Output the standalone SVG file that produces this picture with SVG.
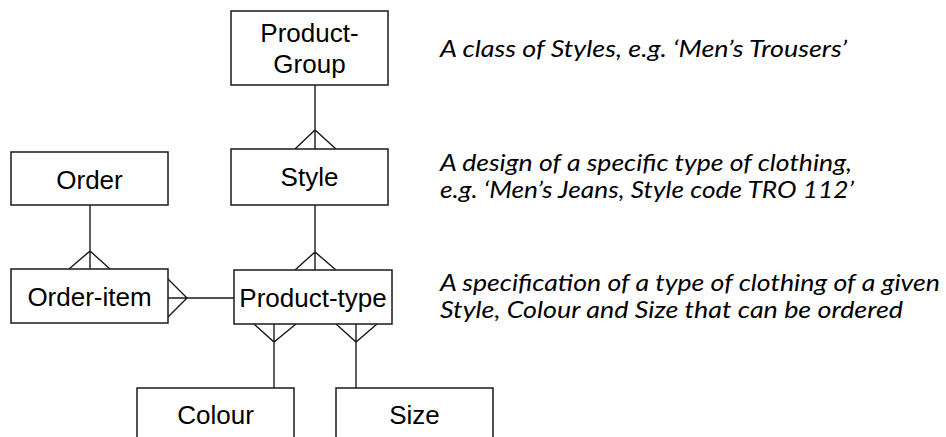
<svg xmlns="http://www.w3.org/2000/svg" width="946" height="437" viewBox="0 0 946 437">
  <style>
    .box { fill: #ffffff; stroke: #1a1a1a; stroke-width: 1.5; }
    .label { font-family: "Liberation Sans", Arial, sans-serif; font-size: 26px; fill: #000000; text-anchor: middle; }
    .rel { fill: none; stroke: #1a1a1a; stroke-width: 1.4; }
    .note { font-family: Lato, "Open Sans", sans-serif; font-style: italic; font-size: 22.5px; fill: #000000; }
  </style>
  <rect width="946" height="437" fill="#ffffff"/>

  <!-- relationships (crow's foot marks the "many" end) -->
  <g id="connectors">
    <!-- Product-Group to Style -->
    <path class="rel" d="M315 85 V149 M295 149 L315 130 L336 149"/>
    <!-- Order to Order-item -->
    <path class="rel" d="M90 205 V269 M69 269 L90 251 L110 269"/>
    <!-- Style to Product-type -->
    <path class="rel" d="M315 205 V270 M295 270 L315 252 L336 270"/>
    <!-- Product-type to Order-item -->
    <path class="rel" d="M234 298 H168 M168 279 L187 298 L168 317"/>
    <!-- Colour to Product-type -->
    <path class="rel" d="M274 388 V324 M254 324 L274 342 L296 324"/>
    <!-- Size to Product-type -->
    <path class="rel" d="M356 388 V324 M336 324 L356 342 L377 324"/>
  </g>

  <g id="product-group">
    <rect class="box" x="231" y="11" width="157" height="74"/>
    <text class="label" x="309.5" y="42">Product-</text>
    <text class="label" x="309.5" y="73">Group</text>
  </g>

  <g id="order">
    <rect class="box" x="11" y="152" width="157" height="53"/>
    <text class="label" x="89.5" y="189">Order</text>
  </g>

  <g id="style">
    <rect class="box" x="231" y="149" width="157" height="56"/>
    <text class="label" x="309.5" y="186">Style</text>
  </g>

  <g id="order-item">
    <rect class="box" x="11" y="269" width="157" height="54"/>
    <text class="label" x="89.5" y="306">Order-item</text>
  </g>

  <g id="product-type">
    <rect class="box" x="234" y="270" width="158" height="54"/>
    <text class="label" x="313" y="307">Product-type</text>
  </g>

  <g id="colour">
    <rect class="box" x="137" y="388" width="157" height="70"/>
    <text class="label" x="215.5" y="424">Colour</text>
  </g>

  <g id="size">
    <rect class="box" x="336" y="388" width="157" height="70"/>
    <text class="label" x="414.5" y="424">Size</text>
  </g>

  <!-- descriptions -->
  <g id="notes">
    <text class="note" x="440" y="57" textLength="407" lengthAdjust="spacingAndGlyphs">A class of Styles, e.g. ‘Men’s Trousers’</text>
    <text class="note" x="440" y="171" textLength="412" lengthAdjust="spacingAndGlyphs">A design of a specific type of clothing,</text>
    <text class="note" x="440" y="198" textLength="414" lengthAdjust="spacingAndGlyphs">e.g. ‘Men’s Jeans, Style code TRO 112’</text>
    <text class="note" x="440" y="291" textLength="500" lengthAdjust="spacingAndGlyphs">A specification of a type of clothing of a given</text>
    <text class="note" x="440" y="318" textLength="463" lengthAdjust="spacingAndGlyphs">Style, Colour and Size that can be ordered</text>
  </g>
</svg>
